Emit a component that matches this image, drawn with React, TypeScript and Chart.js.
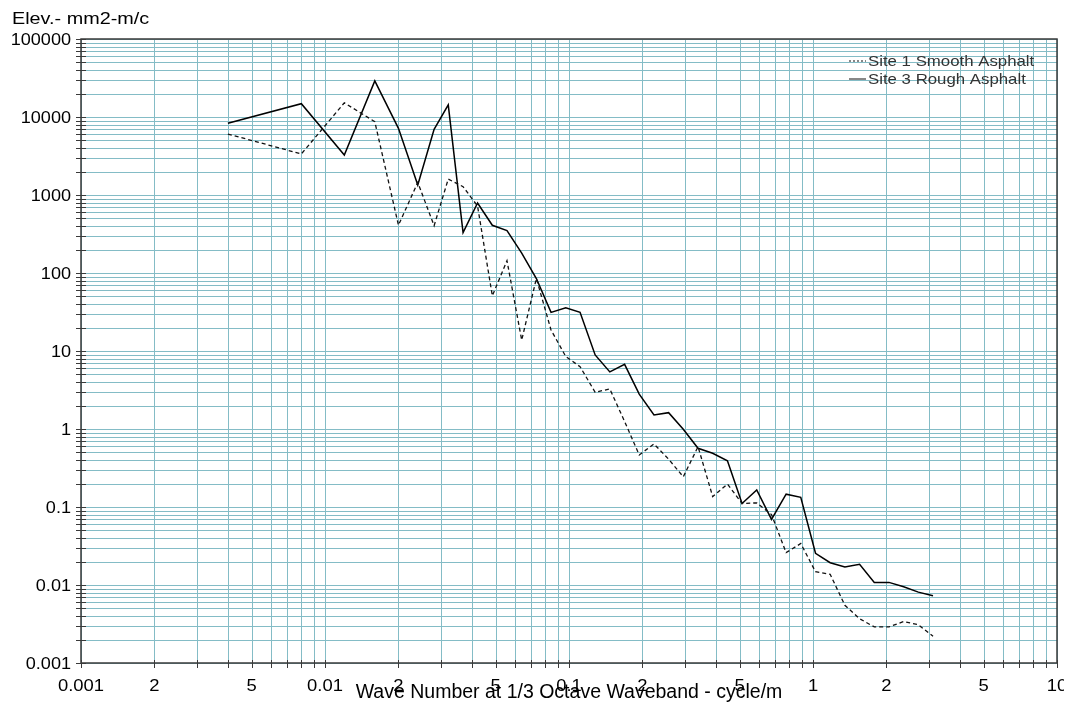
import React, { useEffect, useRef } from 'react';
import { Chart, registerables } from 'chart.js';

Chart.register(...registerables);

// Wave number (cycle/m)
const waveNumbers = [
  0.004, 0.008, 0.012, 0.016, 0.020, 0.024, 0.028, 0.032, 0.0368, 0.0422,
  0.0485, 0.0557, 0.064, 0.0735, 0.0844, 0.097, 0.111, 0.128, 0.147, 0.169,
  0.194, 0.223, 0.256, 0.294, 0.338, 0.388, 0.446, 0.512, 0.588, 0.676,
  0.776, 0.891, 1.024, 1.176, 1.351, 1.552, 1.783, 2.048, 2.353, 2.702, 3.104,
];

// Site 1 Smooth Asphalt (dotted)
const site1Smooth = [
  6050, 3360, 15200, 8700, 410, 1450, 404, 1600, 1280, 720,
  51, 144, 13.8, 85, 18.6, 8.5, 6.3, 2.96, 3.26, 1.25,
  0.465, 0.643, 0.41, 0.244, 0.593, 0.136, 0.197, 0.111, 0.113, 0.08,
  0.026, 0.034, 0.0148, 0.0137, 0.0055, 0.0037, 0.0029, 0.0029, 0.0034, 0.0031, 0.0022,
];

// Site 3 Rough Asphalt (solid)
const site3Rough = [
  8300, 14800, 3260, 29000, 7160, 1340, 6950, 14300, 330, 790,
  409, 349, 180, 85, 31.3, 35.9, 31.3, 8.9, 5.4, 6.75,
  2.8, 1.51, 1.62, 0.99, 0.566, 0.488, 0.392, 0.111, 0.165, 0.0695,
  0.146, 0.133, 0.0255, 0.0193, 0.017, 0.0184, 0.0108, 0.0108, 0.0095, 0.0081, 0.0073,
];

const seriesLabels = ['Site 1 Smooth Asphalt', 'Site 3 Rough Asphalt'];

const xMajorTicks = [0.001, 0.002, 0.005, 0.01, 0.02, 0.05, 0.1, 0.2, 0.5, 1, 2, 5, 10];
const xMajorLabels = ['0.001', '2', '5', '0.01', '2', '5', '0.1', '2', '5', '1', '2', '5', '10'];
const xDecades = [0.001, 0.01, 0.1, 1, 10];

const yMajorTicks = [0.001, 0.01, 0.1, 1, 10, 100, 1000, 10000, 100000];
const yMajorLabels = ['0.001', '0.01', '0.1', '1', '10', '100', '1000', '10000', '100000'];

const gridMultipliers = [1, 2, 3, 4, 5, 6, 7, 8, 9];

const xTitle = 'Wave Number at 1/3 Octave Waveband - cycle/m';
const yTitle = 'Elev.- mm2-m/c';

const FONT = '"Liberation Sans", Arial, sans-serif';
const GRID = 'rgb(132,188,198)';
const FRAME = '#3a3a3a';

function decadeTicks(decades: number[]) {
  const out: { value: number }[] = [];
  for (let i = 0; i < decades.length - 1; i++) {
    for (const m of gridMultipliers) out.push({ value: parseFloat((m * decades[i]).toPrecision(6)) });
  }
  out.push({ value: decades[decades.length - 1] });
  return out;
}

function stretchText(
  ctx: CanvasRenderingContext2D,
  text: string,
  x: number,
  y: number,
  sx: number,
  align: CanvasTextAlign,
  baseline: CanvasTextBaseline
) {
  ctx.save();
  ctx.translate(x, y);
  ctx.scale(sx, 1);
  ctx.textAlign = align;
  ctx.textBaseline = baseline;
  ctx.fillText(text, 0, 0);
  ctx.restore();
}

const gridPlugin = {
  id: 'customGrid',
  beforeDatasetsDraw(chart: any) {
    const { ctx, chartArea } = chart;
    const xs = chart.scales.x;
    const ys = chart.scales.y;
    const { left, right, top, bottom } = chartArea;
    ctx.save();
    ctx.fillStyle = GRID;
    for (const t of xs.ticks) {
      const px = Math.round(xs.getPixelForValue(t.value));
      ctx.fillRect(px, top, 1, bottom - top);
    }
    for (const t of ys.ticks) {
      const py = Math.round(ys.getPixelForValue(t.value));
      ctx.fillRect(left, py, right - left, 1);
    }
    ctx.restore();
  },
};

const decorPlugin = {
  id: 'decor',
  afterDraw(chart: any) {
    const { ctx, chartArea } = chart;
    const xs = chart.scales.x;
    const ys = chart.scales.y;
    const { left, right, top, bottom } = chartArea;

    ctx.save();
    // frame
    ctx.strokeStyle = FRAME;
    ctx.lineWidth = 1.5;
    ctx.strokeRect(left, top, right - left, bottom - top);

    // tick marks
    ctx.fillStyle = FRAME;
    for (const t of xs.ticks) {
      const px = Math.round(xs.getPixelForValue(t.value));
      ctx.fillRect(px, bottom - 3, 1, 8);
    }
    for (const t of ys.ticks) {
      const py = Math.round(ys.getPixelForValue(t.value));
      ctx.fillRect(left - 5, py, 10, 1);
    }

    // tick labels
    ctx.fillStyle = '#000';
    ctx.font = `16px ${FONT}`;
    xMajorTicks.forEach((v, i) => {
      stretchText(ctx, xMajorLabels[i], xs.getPixelForValue(v), bottom + 28, 1.15, 'center', 'alphabetic');
    });
    yMajorTicks.forEach((v, i) => {
      stretchText(ctx, yMajorLabels[i], left - 10, ys.getPixelForValue(v) + 1.5, 1.13, 'right', 'middle');
    });

    // axis titles
    ctx.font = `19.5px ${FONT}`;
    stretchText(ctx, xTitle, (left + right) / 2, bottom + 35, 1.0, 'center', 'alphabetic');
    ctx.font = `16.5px ${FONT}`;
    stretchText(ctx, yTitle, 4, 16, 1.2, 'left', 'alphabetic');

    // legend
    const lx0 = right - 208;
    const lx1 = right - 191;
    const tx = right - 189;
    const rows = [52.5, 70.5];
    chart.data.datasets.forEach((ds: any, i: number) => {
      const y = rows[i];
      ctx.strokeStyle = '#111';
      ctx.lineWidth = 1;
      ctx.setLineDash(ds.borderDash ? [2, 2] : []);
      ctx.beginPath();
      ctx.moveTo(lx0, y + 0.5);
      ctx.lineTo(lx1, y + 0.5);
      ctx.stroke();
      ctx.setLineDash([]);
      ctx.fillStyle = '#333';
      ctx.font = `15px ${FONT}`;
      stretchText(ctx, ds.label, tx, y + 5.3, 1.12, 'left', 'alphabetic');
    });
    ctx.restore();
  },
};

export default function App() {
  const ref = useRef<HTMLCanvasElement | null>(null);

  useEffect(() => {
    if (!ref.current) return;
    const chart = new Chart(ref.current, {
      type: 'line',
      data: {
        datasets: [
          {
            label: seriesLabels[0],
            data: waveNumbers.map((x, i) => ({ x, y: site1Smooth[i] })),
            borderColor: '#111',
            borderWidth: 1.3,
            borderDash: [4, 3],
            pointRadius: 0,
            tension: 0,
            fill: false,
          },
          {
            label: seriesLabels[1],
            data: waveNumbers.map((x, i) => ({ x, y: site3Rough[i] })),
            borderColor: '#000',
            borderWidth: 1.5,
            pointRadius: 0,
            tension: 0,
            fill: false,
          },
        ],
      },
      options: {
        animation: false,
        responsive: false,
        devicePixelRatio: 1,
        layout: { padding: { left: 73, right: 7, top: 31, bottom: 40 } },
        plugins: {
          legend: { display: false },
          tooltip: { enabled: false },
          title: { display: false },
        },
        scales: {
          x: {
            type: 'logarithmic',
            min: 0.001,
            max: 10,
            afterBuildTicks: (scale: any) => {
              scale.ticks = decadeTicks(xDecades);
            },
            ticks: { display: false },
            grid: { display: false, drawTicks: false },
            border: { display: false },
          },
          y: {
            type: 'logarithmic',
            min: 0.001,
            max: 100000,
            afterBuildTicks: (scale: any) => {
              scale.ticks = decadeTicks(yMajorTicks);
            },
            ticks: { display: false },
            grid: { display: false, drawTicks: false },
            border: { display: false },
          },
        },
      },
      plugins: [gridPlugin, decorPlugin],
    } as any);
    return () => chart.destroy();
  }, []);

  return (
    <div style={{ width: 1056, height: 695 }}>
      <canvas ref={ref} width={1056} height={695} style={{ display: 'block' }} />
    </div>
  );
}
